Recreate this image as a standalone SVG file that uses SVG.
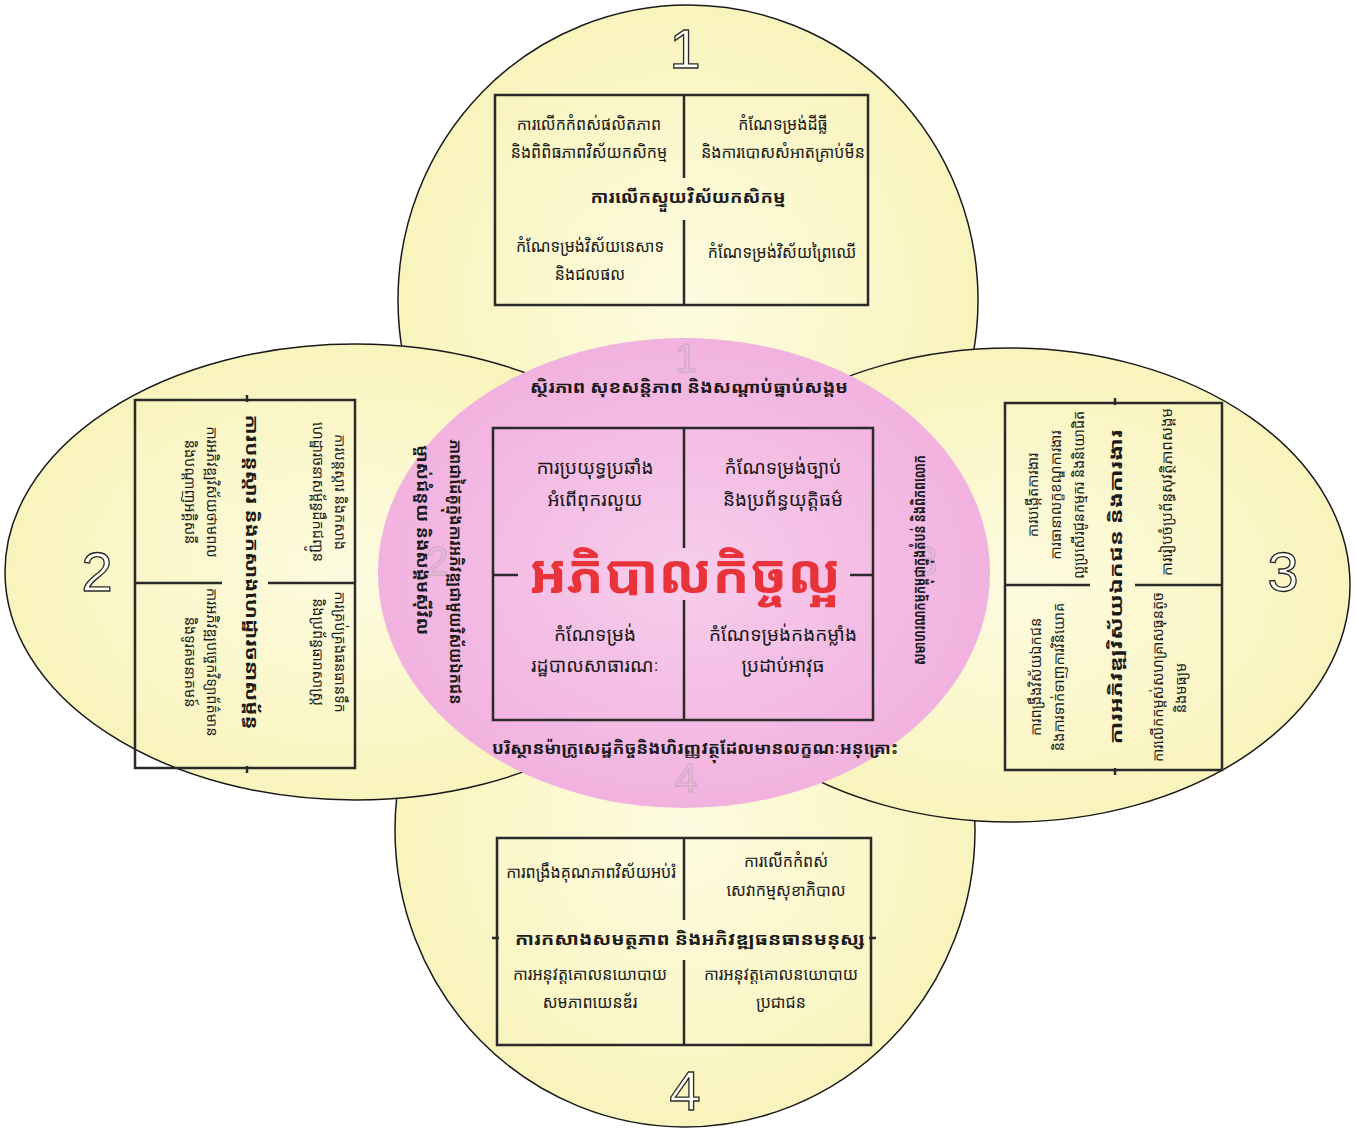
<svg xmlns="http://www.w3.org/2000/svg" width="1356" height="1131" viewBox="0 0 1356 1131">
<style>
.km{font-family:"Noto Sans Khmer","Khmer OS","Noto Serif Khmer","DejaVu Sans",sans-serif;fill:#1a1a1a;text-anchor:middle}
.t{font-size:16px}
.s{font-size:14.5px}
.c{font-size:19px}
.b{font-size:17px;font-weight:bold}
.rim{font-size:16px;font-weight:bold}
.red{font-size:54px;font-weight:bold;fill:#e8333a}
.num{font-family:"Liberation Sans",Arial,sans-serif;font-size:56px;fill:#fffef2;stroke:#2a2a2a;stroke-width:1.3;text-anchor:middle}
.wm{font-family:"Liberation Sans",Arial,sans-serif;font-size:40px;fill:none;stroke:#a0a0a0;stroke-width:1.1;opacity:0.5;text-anchor:middle}
.lobe{fill:url(#yel);stroke:#1a1a1a;stroke-width:1.5}
.box{fill:none;stroke:#2a2a2a;stroke-width:2.5}
.div{stroke:#2a2a2a;stroke-width:2.5;fill:none}
</style>
<defs>
<radialGradient id="yel" cx="50%" cy="50%" r="50%">
<stop offset="0" stop-color="#fdfbe0"/>
<stop offset="1" stop-color="#f9f4bd"/>
</radialGradient>
<radialGradient id="pink" cx="50%" cy="50%" r="50%">
<stop offset="0" stop-color="#f7cdec"/>
<stop offset="1" stop-color="#f2b2df"/>
</radialGradient>
</defs>
<rect width="1356" height="1131" fill="#ffffff"/>

<g id="lobe-top"><ellipse class="lobe" cx="688" cy="300" rx="290" ry="295"/></g>
<g id="lobe-bottom"><ellipse class="lobe" cx="685" cy="830" rx="290" ry="297"/></g>
<g id="lobe-left"><ellipse class="lobe" cx="355" cy="572" rx="350" ry="228"/></g>
<g id="lobe-right"><ellipse class="lobe" cx="1010" cy="585" rx="340" ry="237"/></g>
<g id="center-ellipse"><ellipse cx="684" cy="573" rx="306" ry="235" fill="url(#pink)" stroke="none"/></g>

<g id="watermarks">
<text class="wm" x="686" y="372">1</text>
<text class="wm" x="437" y="575">2</text>
<text class="wm" x="926" y="575">3</text>
<text class="wm" x="686" y="792">4</text>
</g>

<g id="numbers">
<text class="num" x="685" y="68">1</text>
<text class="num" x="97" y="591">2</text>
<text class="num" x="1283" y="591">3</text>
<text class="num" x="685" y="1110">4</text>
</g>

<g id="connectors">
<path class="div" d="M684 95V178 M684 220V305"/>
<path class="div" d="M684 428V548 M684 600V720 M493 575H518 M850 575H873"/>
<path class="div" d="M684 838V920 M684 960V1045 M492 938H499 M869 938H876"/>
<path class="div" d="M135 583H222 M268 583H355 M247 395V402 M247 766V773"/>
<path class="div" d="M1005 585H1090 M1135 585H1222 M1115 398V405 M1115 768V775"/>
</g>

<g id="node-top">
<rect class="box" x="495" y="95" width="373" height="210" fill="#fcf8cc"/>
<text class="km t" x="589" y="130">ការលើកកំពស់ផលិតភាព</text>
<text class="km t" x="589" y="158">និងពិពិធភាពវិស័យកសិកម្ម</text>
<text class="km t" x="783" y="130">កំណែទម្រង់ដីធ្លី</text>
<text class="km t" x="783" y="158">និងការបោសសំអាតគ្រាប់មីន</text>
<text class="km b" x="688" y="203" textLength="195" lengthAdjust="spacingAndGlyphs">ការលើកស្ទួយវិស័យកសិកម្ម</text>
<text class="km t" x="590" y="252">កំណែទម្រង់វិស័យនេសាទ</text>
<text class="km t" x="590" y="280">និងជលផល</text>
<text class="km t" x="782" y="258">កំណែទម្រង់វិស័យព្រៃឈើ</text>
</g>

<g id="node-center">
<rect class="box" x="493" y="428" width="380" height="292"/>
<text class="km c" x="595" y="474">ការប្រយុទ្ធប្រឆាំង</text>
<text class="km c" x="595" y="506">អំពើពុករលួយ</text>
<text class="km c" x="783" y="474">កំណែទម្រង់ច្បាប់</text>
<text class="km c" x="783" y="506">និងប្រព័ន្ធយុត្តិធម៌</text>
<text class="km red" x="685" y="593" textLength="312" lengthAdjust="spacingAndGlyphs">អភិបាលកិច្ចល្អ</text>
<text class="km c" x="595" y="641">កំណែទម្រង់</text>
<text class="km c" x="595" y="672">រដ្ឋបាលសាធារណៈ</text>
<text class="km c" x="783" y="641">កំណែទម្រង់កងកម្លាំង</text>
<text class="km c" x="783" y="672">ប្រដាប់អាវុធ</text>
</g>

<g id="node-rim">
<text class="km rim" x="689" y="393" textLength="318" lengthAdjust="spacingAndGlyphs">ស្ថិរភាព  សុខសន្តិភាព  និងសណ្តាប់ធ្នាប់សង្គម</text>
<text class="km rim" x="695" y="754" textLength="406" lengthAdjust="spacingAndGlyphs">បរិស្ថានម៉ាក្រូសេដ្ឋកិច្ចនិងហិរញ្ញវត្ថុដែលមានលក្ខណៈអនុគ្រោះ</text>
<text class="km rim" transform="translate(450 572) rotate(90)" textLength="265" lengthAdjust="spacingAndGlyphs">ភាពជាដៃគូក្នុងការអភិវឌ្ឍជាមួយវិស័យឯកជន</text>
<text class="km rim" transform="translate(417 540) rotate(90)" textLength="190" lengthAdjust="spacingAndGlyphs">ម្ចាស់ជំនួយ និងសង្គមស៊ីវិល</text>
<text class="km rim" transform="translate(925 560) rotate(-90)" textLength="210" lengthAdjust="spacingAndGlyphs">សមាហរណកម្មកម្ពុជាក្នុងតំបន់ និងពិភពលោក</text>
</g>

<g id="node-left">
<rect class="box" x="135" y="400" width="220" height="368" fill="#fcf8cc"/>
<text class="km s" transform="translate(335 492) rotate(90)">ការបន្តស្តារ និងកសាង</text>
<text class="km s" transform="translate(313 492) rotate(90)">ហេដ្ឋារចនាសម្ព័ន្ធដឹកជញ្ជូន</text>
<text class="km s" transform="translate(335 652) rotate(90)">ការគ្រប់គ្រងធនធានទឹក</text>
<text class="km s" transform="translate(313 652) rotate(90)">និងប្រព័ន្ធធារាសាស្ត្រ</text>
<text class="km b" transform="translate(246 572) rotate(90)" textLength="315" lengthAdjust="spacingAndGlyphs">ការបន្តស្តារ  និងកសាងហេដ្ឋារចនាសម្ព័ន្ធ</text>
<text class="km s" transform="translate(207 492) rotate(90)">ការអភិវឌ្ឍវិស័យថាមពល</text>
<text class="km s" transform="translate(185 492) rotate(90)">និងបណ្តាញអគ្គិសនី</text>
<text class="km s" transform="translate(207 662) rotate(90)">ការអភិវឌ្ឍបច្ចេកវិទ្យាព័ត៌មាន</text>
<text class="km s" transform="translate(185 662) rotate(90)">និងទូរគមនាគមន៍</text>
</g>

<g id="node-right">
<rect class="box" x="1005" y="403" width="217" height="367" fill="#fcf8cc"/>
<text class="km s" transform="translate(1038 495) rotate(-90)">ការបង្កើតការងារ</text>
<text class="km s" transform="translate(1061 495) rotate(-90)">ការធានាលក្ខខណ្ឌការងារ</text>
<text class="km s" transform="translate(1084 495) rotate(-90)" textLength="168" lengthAdjust="spacingAndGlyphs">ល្អប្រសើរជូនកម្មករ និងនិយោជិត</text>
<text class="km b" transform="translate(1122 587) rotate(-90)" textLength="315" lengthAdjust="spacingAndGlyphs">ការអភិវឌ្ឍវិស័យឯកជន  និងការងារ</text>
<text class="km s" transform="translate(1172 492) rotate(-90)" textLength="168" lengthAdjust="spacingAndGlyphs">ការរៀបចំប្រព័ន្ធសុវត្ថិភាពសង្គម</text>
<text class="km s" transform="translate(1041 677) rotate(-90)">ការពង្រឹងវិស័យឯកជន</text>
<text class="km s" transform="translate(1064 677) rotate(-90)">និងការទាក់ទាញការវិនិយោគ</text>
<text class="km s" transform="translate(1163 677) rotate(-90)" textLength="170" lengthAdjust="spacingAndGlyphs">ការលើកកម្ពស់សហគ្រាសធុនតូច</text>
<text class="km s" transform="translate(1186 688) rotate(-90)">និងមធ្យម</text>
</g>

<g id="node-bottom">
<rect class="box" x="497" y="838" width="374" height="207" fill="#fcf8cc"/>
<text class="km t" x="591" y="878">ការពង្រឹងគុណភាពវិស័យអប់រំ</text>
<text class="km t" x="786" y="867">ការលើកកំពស់</text>
<text class="km t" x="786" y="896">សេវាកម្មសុខាភិបាល</text>
<text class="km b" x="690" y="945" textLength="350" lengthAdjust="spacingAndGlyphs">ការកសាងសមត្ថភាព  និងអភិវឌ្ឍធនធានមនុស្ស</text>
<text class="km t" x="590" y="980">ការអនុវត្តគោលនយោបាយ</text>
<text class="km t" x="590" y="1008">សមភាពយេនឌ័រ</text>
<text class="km t" x="781" y="980">ការអនុវត្តគោលនយោបាយ</text>
<text class="km t" x="781" y="1008">ប្រជាជន</text>
</g>
</svg>
